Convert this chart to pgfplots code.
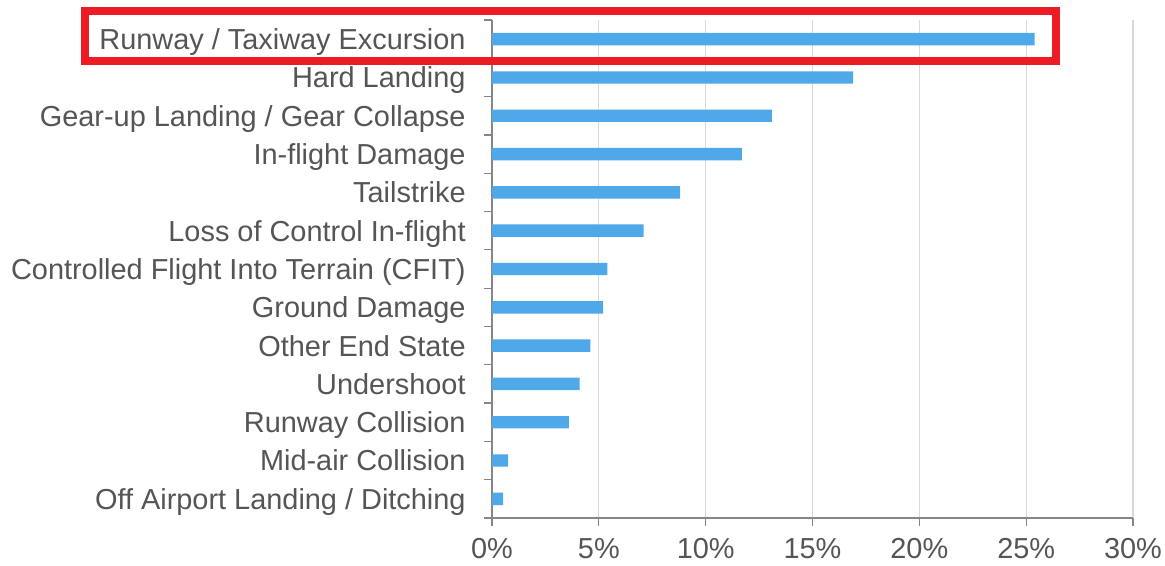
\documentclass[border=0pt]{standalone}
\usepackage{pgfplots}
\pgfplotsset{compat=1.18}
\usepackage{fontspec}
\setmainfont{Liberation Sans}
\definecolor{barblue}{RGB}{79,168,232}
\definecolor{txtgray}{RGB}{85,85,85}
\definecolor{gridgray}{RGB}{217,217,217}
\definecolor{axgray}{RGB}{134,134,134}
\definecolor{boxred}{RGB}{237,28,36}
\begin{document}
\begin{tikzpicture}
\path[use as bounding box] (0,0) rectangle (582.5pt,283pt);
\begin{axis}[
  at={(246pt,24pt)}, anchor=south west,
  scale only axis, width=320.5pt, height=249pt,
  xbar, bar width=6.2pt,
  xmin=0, xmax=30, ymin=-0.5, ymax=12.5,
  axis lines=left, axis line style={-, draw=axgray, line width=0.6pt},
  xtick={0,5,...,30},
  xticklabel={\pgfmathprintnumber{\tick}\%},
  xmajorgrids, grid style={draw=gridgray, line width=0.6pt},
  ytick={0,...,12},
  yticklabels={Off Airport Landing / Ditching, Mid-air Collision, Runway Collision, Undershoot, Other End State, Ground Damage, Controlled Flight Into Terrain (CFIT), Loss of Control In-flight, Tailstrike, In-flight Damage, Gear-up Landing / Gear Collapse, Hard Landing, Runway / Taxiway Excursion},
  minor ytick={-0.5,0.5,...,12.5},
  tick align=outside, major tick length=4pt, minor tick length=4pt,
  xtick style={draw=axgray, line width=0.6pt},
  ytick style={draw=none},
  minor y tick style={draw=axgray, line width=0.6pt},
  /pgf/number format/assume math mode=true,
  ticklabel style={font=\fontsize{14.45}{17}\selectfont, text=txtgray},
  yticklabel style={inner sep=0pt, anchor=base east, xshift=-9pt, yshift=-5.2pt},
  xticklabel style={inner sep=0pt, yshift=-6pt},
  clip=false,
]
\addplot[draw=none, fill=barblue] coordinates {
  (0.52,0) (0.75,1) (3.6,2) (4.1,3) (4.6,4) (5.2,5) (5.4,6) (7.1,7) (8.8,8) (11.7,9) (13.1,10) (16.9,11) (25.4,12)
};
\end{axis}
\draw[boxred, line width=4pt] (42.35pt,252.25pt) rectangle (528pt,277.25pt);
\end{tikzpicture}
\end{document}
